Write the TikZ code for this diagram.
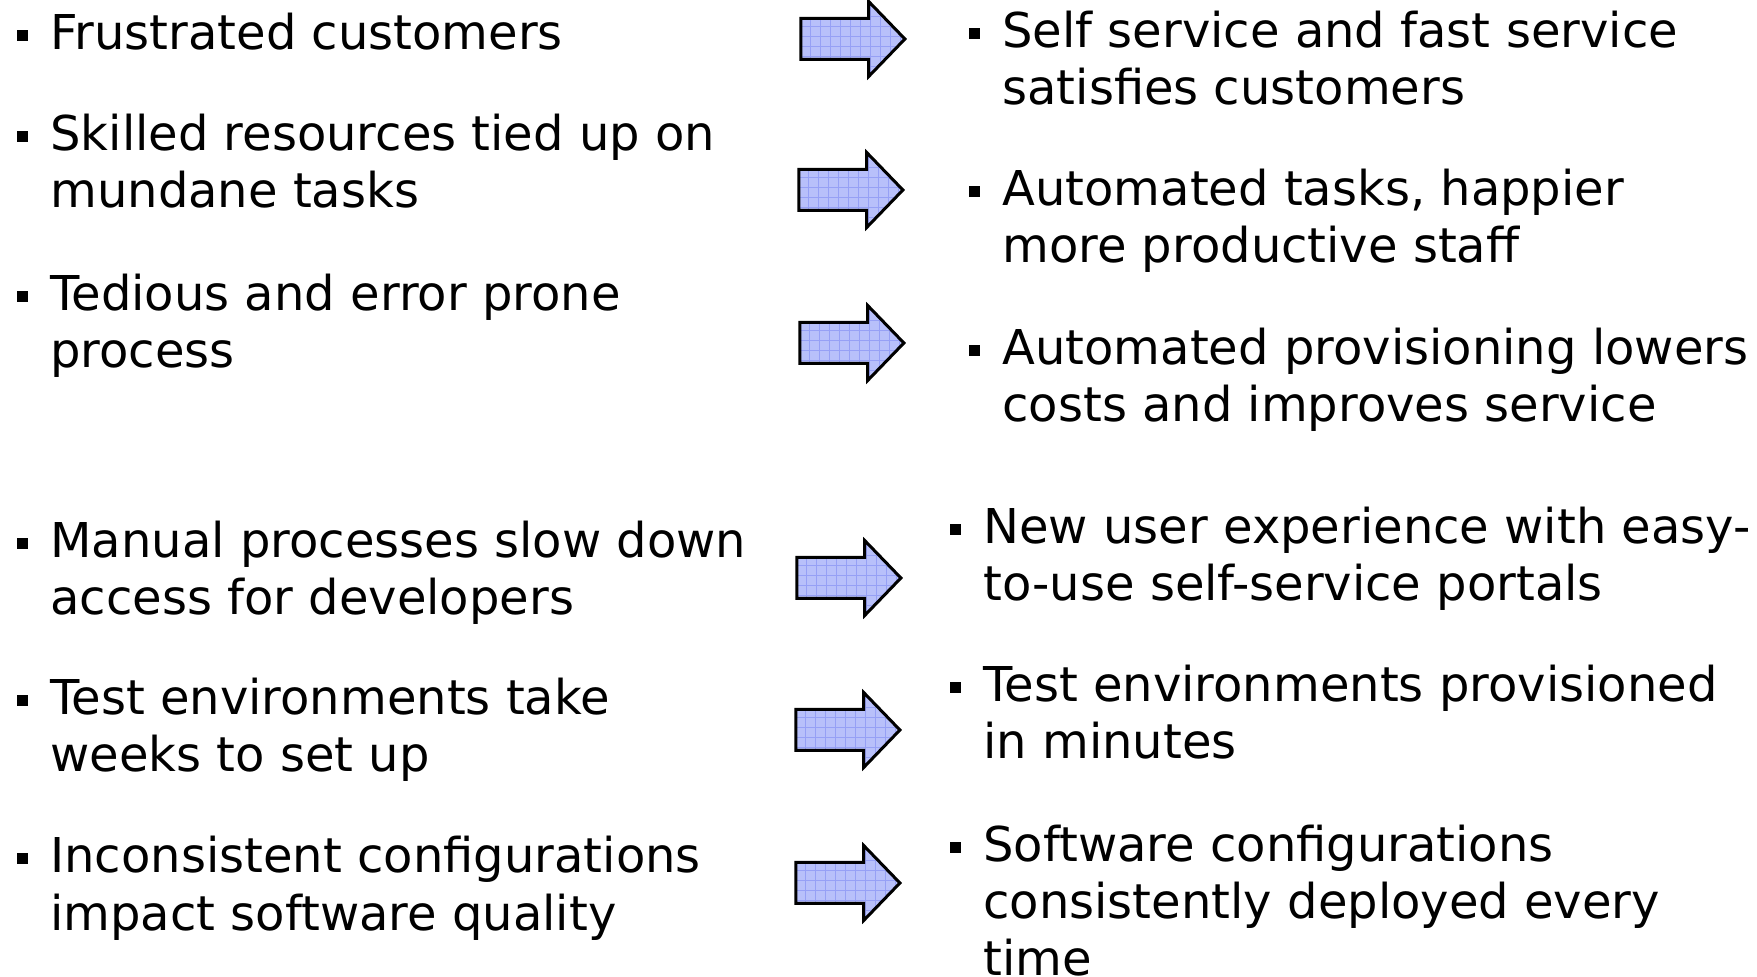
\documentclass[tikz,border=0pt]{standalone}
\usepackage{fontspec}
\setmainfont{DejaVu Sans}
\usetikzlibrary{shapes.arrows}
\definecolor{arrowfill}{RGB}{184,192,250}
\definecolor{arrowgrid}{RGB}{150,160,245}
\newcommand{\bul}{\llap{\rule[4.5pt]{5.5pt}{5.5pt}\hspace{11pt}}}
\newcommand{\lines}[1]{\begin{tabular}[t]{@{}l@{}}#1\end{tabular}}
\tikzset{
  point/.style={anchor=base west, inner sep=0pt,
    font=\fontsize{24}{28.5}\selectfont},
  gridline/.style={arrowgrid, line width=0.5pt},
  bigarrow/.style={single arrow, draw=black, line width=1.5pt, fill=arrowfill,
    minimum height=52pt, inner xsep=0pt, inner ysep=9.5pt,
    single arrow head extend=8.5pt, single arrow tip angle=92,
    path picture={
      \foreach \g in {1,...,11}
        \draw[gridline] ([xshift=\g*5pt]path picture bounding box.south west)
          -- ([xshift=\g*5pt]path picture bounding box.north west);
      \foreach \g in {1,...,8}
        \draw[gridline] ([yshift=\g*5pt]path picture bounding box.south west)
          -- ([yshift=\g*5pt]path picture bounding box.south east);
    }},
}
\begin{document}
\begin{tikzpicture}[x=0.5pt, y=-0.5pt]
\useasboundingbox (0,0) rectangle (1757,977);
% problems
\node[point] (l1) at (50,50) {\lines{\bul Frustrated customers}};
\node[point] (l2) at (50,151) {\lines{\bul Skilled resources tied up on\\mundane tasks}};
\node[point] (l3) at (50,311) {\lines{\bul Tedious and error prone\\process}};
\node[point] (l4) at (50,558) {\lines{\bul Manual processes slow down\\access for developers}};
\node[point] (l5) at (50,715) {\lines{\bul Test environments take\\weeks to set up}};
\node[point] (l6) at (50,873) {\lines{\bul Inconsistent configurations\\impact software quality}};
% arrows
\foreach \n/\x/\y in {1/843/39, 2/841/190, 3/842/343, 4/839/578, 5/838/730, 6/838/883}
  \node[bigarrow] (a\n) at (\x,\y) {};
% benefits
\node[point] (r1) at (1002,48) {\lines{\bul Self service and fast service\\satisfies customers}};
\node[point] (r2) at (1002,206) {\lines{\bul Automated tasks, happier\\more productive staff}};
\node[point] (r3) at (1002,365) {\lines{\bul Automated provisioning lowers\\costs and improves service}};
\node[point] (r4) at (983,544) {\lines{\bul New user experience with easy-\\to-use self-service portals}};
\node[point] (r5) at (983,702) {\lines{\bul Test environments provisioned\\in minutes}};
\node[point] (r6) at (983,862) {\lines{\bul Software configurations\\consistently deployed every\\time}};
\end{tikzpicture}
\end{document}
